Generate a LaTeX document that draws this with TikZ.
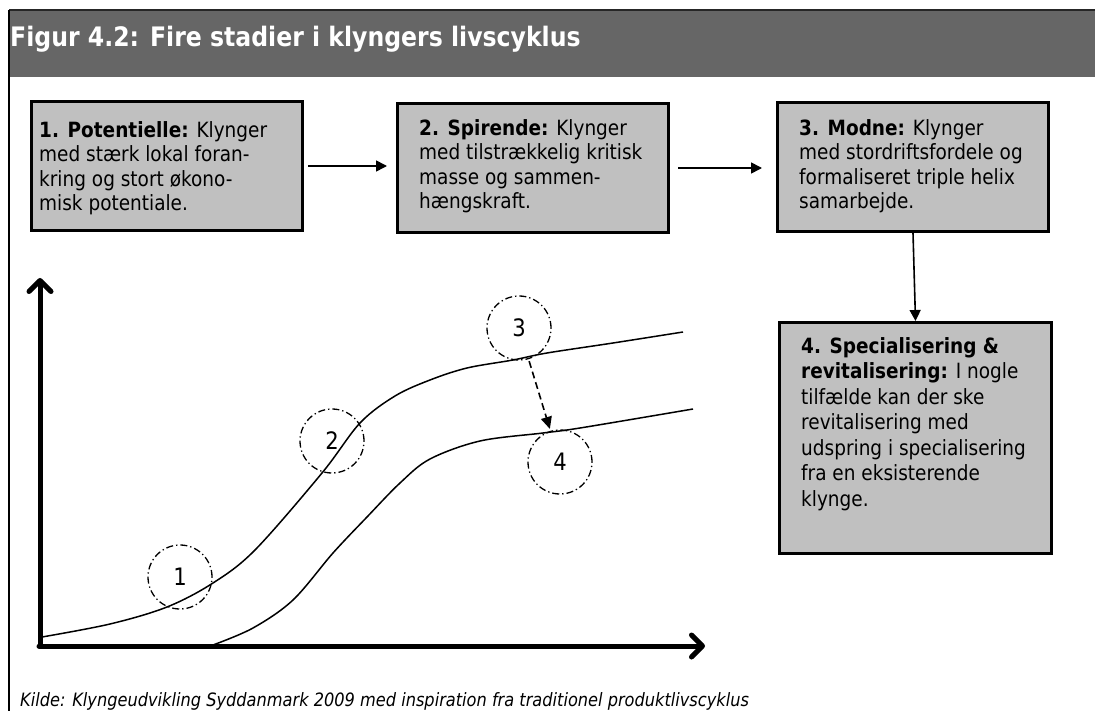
\documentclass[tikz,border=0pt]{standalone}
\usepackage{fontspec}
\setmainfont[FakeStretch=0.88]{DejaVu Sans}
\usetikzlibrary{arrows.meta}

\definecolor{barfill}{HTML}{666666}
\definecolor{stagefill}{HTML}{C0C0C0}

\tikzset{
  stagebox/.style={draw=black, line width=3pt, fill=stagefill, rectangle, inner sep=0pt},
  stagetext/.style={anchor=north west, inner sep=0pt, align=left,
    font=\fontsize{21}{24.5}\selectfont},
  flowarrow/.style={line width=1.6pt, -{Triangle[length=11pt,width=11pt]}},
  axisline/.style={line width=5pt, line cap=round,
    -{Straight Barb[length=11pt,width=22pt,line cap=round,line join=round]}},
  curveline/.style={line width=1.5pt},
  phase/.style={circle, draw=black, line width=1.3pt, minimum size=64pt, inner sep=0pt,
    dash pattern=on 7pt off 3pt on 1.3pt off 3pt, font=\fontsize{24}{24}\selectfont},
  jumparrow/.style={line width=1.6pt, dash pattern=on 7pt off 4pt,
    -{Triangle[length=12pt,width=11pt]}, shorten >=2pt, shorten <=2pt},
}

\begin{document}
\begin{tikzpicture}[x=1pt, y=-1pt]
  \useasboundingbox (0,0) rectangle (1095,711);

  % frame: title bar and left rule
  \fill[barfill] (9,10) rectangle (1095,77);
  \draw[line width=1.5pt, black!85] (9,10) -- (1095,10);
  \draw[line width=1.5pt] (9,10) -- (9,711);
  \node[anchor=base west, inner sep=0pt, text=white,
        font=\bfseries\fontsize{26.8}{26.8}\selectfont] (title) at (10,47)
        {Figur 4.2: Fire stadier i klyngers livscyklus};

  % the four stage boxes
  \node[stagebox, minimum width=271pt, minimum height=129pt] (b1) at (167,166) {};
  \node[stagebox, minimum width=271pt, minimum height=129pt] (b2) at (533,168) {};
  \node[stagebox, minimum width=271pt, minimum height=129pt] (b3) at (913,167) {};
  \node[stagebox, minimum width=272pt, minimum height=231pt] (b4) at (915.5,438) {};

  \node[stagetext] (t1) at (39,121)
    {\textbf{1. Potentielle:} Klynger\\med stærk lokal foran-\\kring og stort økono-\\misk potentiale.};
  \node[stagetext] (t2) at (419,119)
    {\textbf{2. Spirende:} Klynger\\med tilstrækkelig kritisk\\masse og sammen-\\hængskraft.};
  \node[stagetext] (t3) at (799,119)
    {\textbf{3. Modne:} Klynger\\med stordriftsfordele og\\formaliseret triple helix\\samarbejde.};
  \node[stagetext, font=\fontsize{21}{25.5}\selectfont] (t4) at (801,337)
    {\textbf{4. Specialisering \&}\\\textbf{revitalisering:} I nogle\\tilfælde kan der ske\\revitalisering med\\udspring i specialisering\\fra en eksisterende\\klynge.};

  \draw[flowarrow] (b1.east) ++(4,0) coordinate (a1s) -- ([xshift=-9pt]b2.west |- a1s);
  \draw[flowarrow] (b2.east) ++(8,0) coordinate (a2s) -- ([xshift=-14pt]b3.west |- a2s);
  \draw[flowarrow] (b3.south) -- (b4.north);

  % axes
  \coordinate (origin) at (40,646);
  \coordinate (ytop) at (40,278);
  \coordinate (xend) at (705,646);
  \draw[axisline] ([yshift=1pt]origin) -- (ytop);
  \draw[axisline] ([xshift=-1pt]origin) -- (xend);

  % life-cycle curves
  \draw[curveline] plot[smooth, tension=0.55] coordinates {
    (42,637) (110,624) (167,607) (213,583) (255,550) (322,473) (360,423)
    (395,396) (430,380) (467,368) (513,360) (547,353) (613,343) (683,332)};
  \draw[curveline] plot[smooth, tension=0.55] coordinates {
    (213,645) (253,628) (293,600) (333,553) (367,517) (400,483)
    (430,459) (480,441) (543,433) (580,428) (693,409)};

  % phase markers
  \node[phase] (c1) at (180,577) {1};
  \node[phase] (c2) at (332,441) {2};
  \node[phase] (c3) at (519,328) {3};
  \node[phase] (c4) at (560,462) {4};
  \draw[jumparrow] (c3) -- (c4);

  % source line
  \node[anchor=base west, inner sep=0pt, font=\itshape\fontsize{18.4}{18.4}\selectfont] (src) at (20,706)
    {Kilde: Klyngeudvikling Syddanmark 2009 med inspiration fra traditionel produktlivscyklus};
\end{tikzpicture}
\end{document}
